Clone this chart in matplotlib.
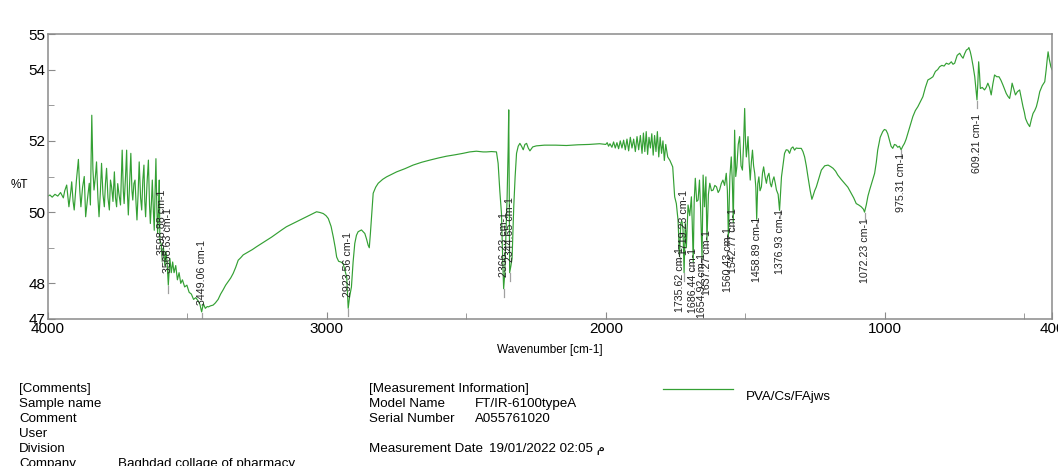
import numpy as np
import matplotlib
matplotlib.use("Agg")
import matplotlib.pyplot as plt

plt.rcParams['font.family'] = ['Liberation Sans', 'DejaVu Sans']

# FT-IR spectrum (wavenumber cm-1, %T)
wavenumber = [
    4000, 3993, 3985, 3975, 3965, 3955, 3945, 3940, 3933, 3925, 3918, 3915, 3910, 3906, 3898, 3891,
    3886, 3882, 3876, 3870, 3865, 3858, 3852, 3848, 3843, 3839, 3835, 3830, 3826, 3821, 3817, 3812,
    3808, 3803, 3798, 3794, 3790, 3785, 3780, 3776, 3772, 3767, 3762, 3758, 3754, 3750, 3746, 3740,
    3734, 3730, 3727, 3722, 3718, 3715, 3712, 3707, 3703, 3699, 3696, 3692, 3688, 3684, 3681, 3677,
    3673, 3668, 3664, 3660, 3656, 3653, 3650, 3645, 3640, 3636, 3633, 3629, 3626, 3622, 3619, 3616,
    3613, 3610, 3607, 3604, 3601, 3598.9, 3594, 3590, 3586, 3581, 3577, 3573, 3568.6, 3563, 3558, 3553,
    3548, 3542, 3536, 3530, 3524, 3518, 3510, 3502, 3494, 3486, 3478, 3470, 3461, 3455, 3449.1, 3443,
    3436, 3429, 3425, 3417, 3408, 3400, 3390, 3381, 3372, 3363, 3354, 3345, 3336, 3327, 3318, 3309,
    3300, 3291, 3282, 3267, 3252, 3234, 3216, 3198, 3180, 3162, 3145, 3127, 3109, 3091, 3073, 3055,
    3037, 3025, 3013, 3003, 2995, 2985, 2977, 2970, 2965, 2958, 2950, 2942, 2935, 2929, 2926, 2923.6,
    2919, 2912, 2906, 2900, 2894, 2888, 2876, 2864, 2858, 2852, 2848, 2844, 2840, 2834, 2825, 2816,
    2800, 2786, 2768, 2750, 2720, 2691, 2660, 2631, 2600, 2571, 2540, 2512, 2488, 2464, 2440, 2428,
    2410, 2392, 2386, 2380, 2374, 2369, 2366.2, 2362, 2358, 2354, 2350, 2348, 2346, 2344.7, 2340, 2336,
    2333, 2330, 2325, 2320, 2314, 2308, 2302, 2296, 2290, 2284, 2278, 2272, 2262, 2249, 2220, 2180,
    2141, 2100, 2060, 2022, 2000, 1995, 1990, 1985, 1978, 1972, 1966, 1960, 1954, 1948, 1942, 1936,
    1930, 1924, 1918, 1912, 1906, 1900, 1894, 1888, 1882, 1876, 1870, 1865, 1860, 1855, 1850, 1845,
    1840, 1835, 1830, 1825, 1820, 1815, 1810, 1805, 1800, 1795, 1790, 1785, 1778, 1770, 1760, 1753,
    1747, 1741, 1735.6, 1731, 1727, 1723, 1719.2, 1715, 1711, 1705, 1699, 1693, 1690, 1686.4, 1683, 1679,
    1674, 1669, 1664, 1660, 1654.9, 1651, 1646, 1641, 1637.3, 1632, 1627, 1621, 1615, 1609, 1603, 1597,
    1592, 1586, 1580, 1574, 1568, 1564, 1560.4, 1555, 1550, 1546, 1542.8, 1538, 1534, 1530, 1525, 1520,
    1515, 1510, 1506, 1502, 1499, 1496, 1493, 1490, 1486, 1482, 1478, 1474, 1470, 1466, 1462, 1458.9,
    1455, 1451, 1447, 1442, 1438, 1434, 1429, 1424, 1420, 1415, 1410, 1406, 1401, 1397, 1392, 1388,
    1382, 1376.9, 1373, 1370, 1365, 1359, 1353, 1347, 1341, 1335, 1329, 1323, 1317, 1311, 1299, 1293,
    1287, 1281, 1275, 1267, 1261, 1257, 1251, 1245, 1236, 1227, 1215, 1203, 1194, 1185, 1176, 1168,
    1156, 1144, 1132, 1120, 1111, 1102, 1093, 1084, 1076, 1072.2, 1066, 1060, 1054, 1045, 1036, 1030,
    1025, 1016, 1007, 1001, 995, 989, 983, 977, 971, 965, 959, 953, 947, 941, 935, 929,
    923, 917, 908, 899, 890, 881, 872, 863, 854, 845, 836, 827, 818, 810, 803, 795,
    787, 779, 770, 761, 755, 749, 740, 731, 725, 719, 713, 707, 701, 698, 693, 689,
    683, 677, 672, 669, 666, 663, 660, 657, 650, 642, 636, 630, 624, 618, 612, 606,
    598, 590, 583, 576, 570, 564, 558, 552, 547, 543, 537, 531, 524, 516, 510, 504,
    499, 495, 488, 480, 474, 468, 462, 456, 450, 444, 435, 426, 421, 417, 414, 410,
    404, 400,
]
transmittance = [
    50.45, 50.48, 50.42, 50.50, 50.45, 50.55, 50.40, 50.60, 50.76, 50.15, 50.60, 50.85, 50.30, 50.06, 50.90, 51.48,
    50.60, 50.15, 50.70, 51.00, 49.87, 50.40, 50.81, 50.20, 52.72, 51.20, 50.62, 51.00, 51.41, 50.40, 49.87, 50.60,
    51.37, 50.50, 50.15, 50.80, 51.23, 50.40, 50.06, 50.90, 50.71, 50.30, 51.13, 50.40, 50.15, 50.80, 50.53, 50.20,
    51.74, 50.60, 50.24, 51.00, 51.74, 50.50, 49.92, 50.90, 51.65, 50.60, 50.34, 50.80, 50.90, 50.20, 49.78, 50.50,
    51.41, 50.40, 50.06, 50.90, 51.32, 50.30, 49.87, 50.80, 51.46, 50.20, 49.68, 50.30, 50.90, 50.00, 49.49, 50.60,
    51.50, 50.20, 49.40, 50.00, 50.90, 49.20, 49.10, 48.60, 49.00, 48.50, 48.90, 48.60, 47.95, 48.70, 48.30, 48.60,
    48.30, 48.50, 48.10, 48.30, 48.00, 48.10, 47.90, 47.95, 47.75, 47.70, 47.55, 47.60, 47.50, 47.40, 47.20, 47.43,
    47.30, 47.35, 47.34, 47.37, 47.39, 47.45, 47.55, 47.70, 47.82, 47.95, 48.05, 48.15, 48.28, 48.45, 48.65, 48.72,
    48.80, 48.84, 48.88, 48.95, 49.03, 49.12, 49.21, 49.30, 49.40, 49.50, 49.59, 49.66, 49.73, 49.80, 49.87, 49.94,
    50.01, 49.99, 49.96, 49.90, 49.82, 49.60, 49.30, 49.00, 48.74, 48.62, 48.60, 48.56, 48.35, 48.18, 47.70, 47.30,
    47.60, 47.90, 48.60, 49.12, 49.35, 49.45, 49.50, 49.40, 49.25, 49.07, 49.00, 49.40, 49.87, 50.53, 50.70, 50.81,
    50.92, 50.99, 51.06, 51.13, 51.22, 51.32, 51.40, 51.46, 51.52, 51.57, 51.61, 51.65, 51.69, 51.71, 51.69, 51.69,
    51.70, 51.69, 51.37, 50.60, 49.96, 48.50, 47.85, 48.30, 49.40, 50.34, 51.80, 52.87, 50.50, 48.30, 48.50, 48.70,
    49.40, 50.15, 51.00, 51.65, 51.85, 51.93, 51.85, 51.75, 51.90, 51.93, 51.80, 51.72, 51.83, 51.86, 51.88, 51.88,
    51.87, 51.89, 51.90, 51.92, 51.90, 51.95, 51.85, 51.92, 51.82, 51.97, 51.80, 51.95, 51.78, 52.00, 51.80, 52.02,
    51.75, 52.05, 51.72, 52.10, 51.80, 52.05, 51.70, 52.12, 51.75, 52.15, 51.65, 52.22, 51.70, 52.26, 51.62, 52.10,
    51.80, 52.20, 51.60, 52.15, 51.70, 52.26, 51.55, 52.10, 51.65, 52.00, 51.45, 51.90, 51.55, 51.45, 51.27, 50.43,
    50.24, 49.78, 48.75, 49.70, 49.75, 49.50, 48.30, 49.70, 49.00, 50.20, 49.90, 50.43, 49.70, 48.60, 50.30, 50.95,
    50.30, 50.34, 50.90, 50.10, 48.70, 51.04, 50.15, 50.99, 49.20, 50.50, 50.81, 50.60, 50.62, 50.75, 50.71, 50.55,
    50.62, 50.80, 50.90, 50.75, 51.09, 50.60, 49.30, 51.00, 51.55, 50.80, 49.70, 52.30, 51.00, 51.27, 51.90, 52.12,
    51.30, 51.18, 51.90, 52.91, 52.00, 51.55, 51.80, 52.12, 51.40, 50.90, 51.40, 51.74, 51.30, 51.09, 50.70, 49.80,
    50.80, 50.99, 50.60, 50.71, 51.10, 51.27, 51.00, 50.81, 51.00, 51.09, 50.80, 50.71, 50.90, 50.99, 50.80, 50.62,
    50.50, 50.05, 50.60, 50.99, 51.30, 51.65, 51.75, 51.74, 51.65, 51.79, 51.83, 51.74, 51.80, 51.79, 51.79, 51.70,
    51.55, 51.30, 50.99, 50.60, 50.36, 50.45, 50.60, 50.71, 50.95, 51.18, 51.30, 51.32, 51.28, 51.23, 51.15, 51.04,
    50.92, 50.81, 50.70, 50.53, 50.40, 50.24, 50.20, 50.15, 50.08, 50.00, 50.20, 50.45, 50.62, 50.85, 51.09, 51.40,
    51.74, 52.10, 52.26, 52.32, 52.30, 52.20, 52.02, 51.85, 51.79, 51.90, 51.88, 51.82, 51.85, 51.75, 51.85, 51.93,
    52.05, 52.21, 52.45, 52.68, 52.85, 52.96, 53.10, 53.24, 53.50, 53.71, 53.75, 53.80, 53.95, 54.00, 54.08, 54.12,
    54.10, 54.18, 54.15, 54.22, 54.15, 54.18, 54.40, 54.46, 54.38, 54.32, 54.45, 54.55, 54.58, 54.62, 54.50, 54.36,
    54.10, 53.80, 53.40, 53.15, 53.60, 54.22, 53.90, 53.47, 53.50, 53.43, 53.50, 53.62, 53.50, 53.29, 53.60, 53.85,
    53.80, 53.80, 53.70, 53.57, 53.45, 53.33, 53.25, 53.19, 53.40, 53.62, 53.45, 53.29, 53.38, 53.43, 53.20, 52.96,
    52.80, 52.63, 52.50, 52.40, 52.60, 52.77, 52.85, 52.96, 53.15, 53.38, 53.55, 53.66, 53.99, 54.30, 54.50, 54.30,
    54.08, 54.00,
]

# peak picks: label text, where the label sits (cm-1), top of label (%T)
peak_text = ['3598.88 cm-1', '3568.63 cm-1', '3449.06 cm-1', '2923.56 cm-1', '2366.23 cm-1',
             '2344.65 cm-1', '1735.62 cm-1', '1719.23 cm-1', '1686.44 cm-1', '1654.92 cm-1',
             '1637.27 cm-1', '1560.43 cm-1', '1542.77 cm-1', '1458.89 cm-1', '1376.93 cm-1',
             '1072.23 cm-1', '975.31 cm-1', '609.21 cm-1']
peak_x = [3592, 3568.6, 3449.1, 2923.6, 2366.2, 2344.7, 1735.6, 1719.2, 1686.4, 1654.9,
          1637.3, 1560.4, 1542.8, 1458.9, 1376.9, 1072.2, 941, 669]
label_top = [50.62, 50.11, 49.21, 49.45, 50.01, 50.43, 49.03, 50.62, 48.99, 48.85,
             49.49, 49.59, 50.10, 49.87, 50.10, 49.82, 51.65, 52.77]

x_ticks = [4000, 3000, 2000, 1000, 400]
y_ticks = [47, 48, 50, 52, 54, 55]

green = '#34a034'
frame = '#8a8a8a'

fig = plt.figure(figsize=(10.58, 4.66), dpi=100)
ax = fig.add_axes([48 / 1058, 1 - 319 / 466, 1004 / 1058, 285 / 466])

ax.plot(wavenumber, transmittance, color=green, lw=0.85)

# little grey pick marks + rotated labels
wn_rev = np.array(wavenumber)[::-1]
t_rev = np.array(transmittance)[::-1]
for txt, px, ty in zip(peak_text, peak_x, label_top):
    tp = np.interp(px, wn_rev, t_rev)
    ax.plot([px, px], [tp - 0.22, tp - 0.02], color='#a0a0a0', lw=0.9)
    ax.text(px, ty, txt, rotation=90, ha='center', va='top', fontsize=7.7, color='#222222')

ax.set_xlim(4000, 400)
ax.set_ylim(47, 55)
ax.set_xticks(x_ticks)
ax.set_xticks([3500, 2500, 1500, 500], minor=True)
ax.set_yticks(y_ticks)
ax.set_yticks([49, 51, 53], minor=True)
ax.tick_params(which='both', direction='in', color=frame, labelsize=11, pad=2)
ax.tick_params(which='major', length=5)
ax.tick_params(which='minor', length=4)
for s in ax.spines.values():
    s.set_color(frame)
    s.set_linewidth(1.1)

ax.set_xlabel('Wavenumber [cm-1]', fontsize=8.5, labelpad=6)
fig.text(19 / 1058, 1 - 185 / 466, '%T', fontsize=8.5, ha='center', va='center')

# measurement info block under the plot
def put(x, y, s):
    fig.text(x / 1058, 1 - y / 466, s, fontsize=9.6, ha='left', va='center')

left_rows = ['[Comments]', 'Sample name', 'Comment', 'User', 'Division', 'Company']
for i, s in enumerate(left_rows):
    put(19, 389 + 15 * i, s)
put(118, 389 + 15 * 5, 'Baghdad collage of pharmacy')

put(369, 389, '[Measurement Information]')
put(369, 404, 'Model Name')
put(475, 404, 'FT/IR-6100typeA')
put(369, 419, 'Serial Number')
put(475, 419, 'A055761020')
put(369, 449, 'Measurement Date')
put(489, 449, '19/01/2022 02:05 م')

fig.add_artist(plt.Line2D([663 / 1058, 733 / 1058], [1 - 389 / 466, 1 - 389 / 466],
                          color=green, lw=0.9))
put(746, 397, 'PVA/Cs/FAjws')

fig.savefig('out.png', dpi=100)
